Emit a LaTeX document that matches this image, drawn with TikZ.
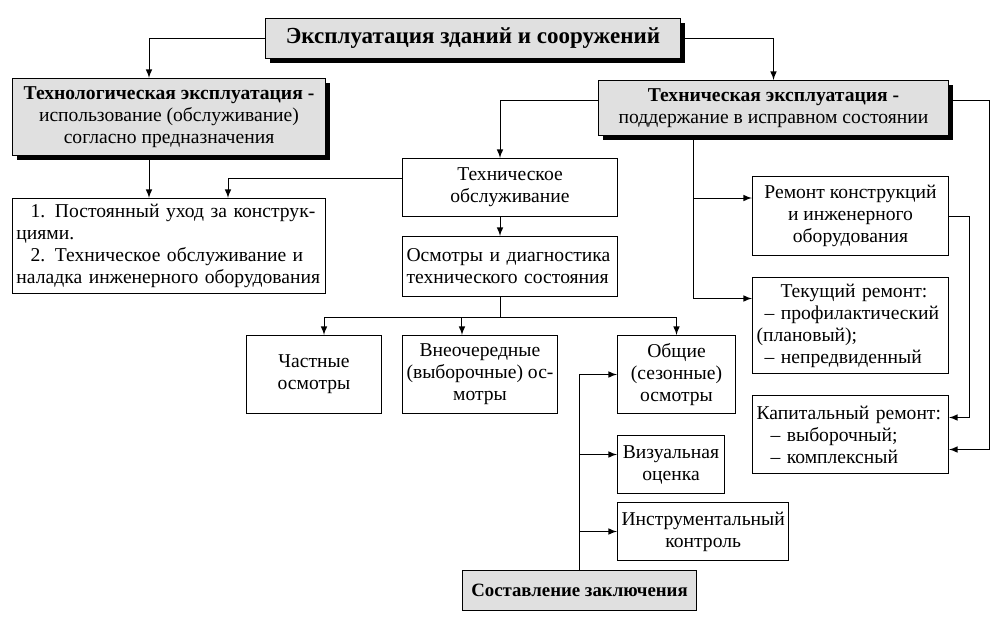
\documentclass[tikz,border=0pt]{standalone}
\usepackage{fontspec}
\setmainfont{Liberation Serif}
\usepackage{tikz}
\usetikzlibrary{positioning,shadows,arrows}
\definecolor{boxgray}{RGB}{224,224,224}

\begin{document}
\begin{tikzpicture}[x=0.5pt, y=-0.5pt, line width=0.5pt, >=latex,
	box/.style={rectangle, draw, fill=white, anchor=north west, inner sep=2pt,
		align=center, font=\fontsize{9.8}{11}\selectfont},
	head/.style={box, fill=boxgray,
		drop shadow={shadow xshift=2.2pt, shadow yshift=-2.2pt, fill=black, opacity=1}},
	sost/.style={box, fill=boxgray}
	]
	\useasboundingbox (0,0) rectangle (1005,621);
	% upper level
	\node (n) [head, minimum width=207.5pt, minimum height=20pt,
		font=\fontsize{11.5}{13}\selectfont\bfseries] at (265,18) {Эксплуатация зданий и сооружений};
	\node (lt) [head, minimum width=156.5pt, minimum height=38.5pt] at (12,78)
		{\textbf{Технологическая эксплуатация -}\\использование (обслуживание)\\согласно предназначения};
	\node (rt) [head, minimum width=175pt, minimum height=27.5pt] at (598,80)
		{\textbf{Техническая эксплуатация -}\\поддержание в исправном состоянии};
	\node (lst) [box, minimum width=156.5pt, minimum height=47.5pt, text width=152.5pt, align=left] at (12,198)
		{\makebox[152.5pt][s]{\hspace*{7pt}1. Постоянный уход за конструк-}\\
		циями.\\
		\makebox[152.5pt][s]{\hspace*{7pt}2. Техническое обслуживание и}\\
		наладка инженерного оборудования};
	% middle
	\node (to) [box, minimum width=107.5pt, minimum height=29pt] at (402,158) {Техническое\\обслуживание};
	\node (osm) [box, minimum width=107.5pt, minimum height=30pt, text width=103.5pt, align=left] at (402,236)
		{Осмотры и диагностика\\технического состояния};
	\node (ch) [box, minimum width=67.5pt, minimum height=39pt] at (246,335) {Частные\\осмотры};
	\node (vn) [box, minimum width=76.5pt, minimum height=39pt] at (402,335) {Внеочередные\\(выборочные) ос-\\мотры};
	\node (ob) [box, minimum width=59pt, minimum height=39pt] at (617,335) {Общие\\(сезонные)\\осмотры};
	\node (viz) [box, minimum width=53.5pt, minimum height=29pt] at (617,435) {Визуальная\\оценка};
	\node (ins) [box, minimum width=84pt, minimum height=29pt] at (617,502) {Инструментальный\\контроль};
	\node (zak) [sost, minimum width=117pt, minimum height=20pt,
		font=\fontsize{9.4}{11}\selectfont\bfseries] at (462,570) {Составление заключения};
	% right
	\node (rem) [box, minimum width=98pt, minimum height=39.5pt] at (752,176)
		{Ремонт конструкций\\и инженерного\\оборудования};
	\node (tek) [box, minimum width=98pt, minimum height=48pt, text width=94pt, align=left] at (752,277)
		{\hspace*{12pt}Текущий ремонт:\\\hspace*{4pt}– профилактический\\(плановый);\\\hspace*{4pt}– непредвиденный};
	\node (kap) [box, minimum width=98pt, minimum height=39pt, text width=94pt, align=left] at (752,395)
		{Капитальный ремонт:\\\hspace*{7pt}– выборочный;\\\hspace*{7pt}– комплексный};

	\draw[->] (n.west) -| ([xshift=-10pt]lt.north);
	\draw[->] (n.east) -| (rt.north);
	\draw[->] ([xshift=-10pt]lt.south) -- ([xshift=-10pt]lst.north);
	\draw[->] ([yshift=4.5pt]to.west) -| ([xshift=29.5pt]lst.north);
	\draw[->] ([yshift=4pt]rt.west) -| ([xshift=-5pt]to.north);
	\draw[->] ([xshift=-5pt]to.south) -- ([xshift=-5pt]osm.north);
	\coordinate (sp) at ([xshift=-5pt,yshift=-10pt]osm.south);
	\draw ([xshift=-5pt]osm.south) -- (sp);
	\draw[->] (sp) -| ([xshift=5pt]ch.north);
	\draw[->] (sp) -| ([xshift=-9pt]vn.north);
	\draw[->] (sp) -| (ob.north);
	\draw[->] (zak.north) |- (ob.west);
	\draw[->] (zak.north) |- ([yshift=5pt]viz.west);
	\draw[->] (zak.north) |- (ins.west);
	\draw[->] ([xshift=-40pt]rt.south) |- ([yshift=9pt]rem.west);
	\draw[->] ([xshift=-40pt]rt.south) |- ([yshift=13.5pt]tek.west);
	\draw[->] ([yshift=4pt]rt.east) -- ++(20pt,0) |- ([yshift=-7.5pt]kap.east);
	\draw[->] (rem.east) -- ++(10pt,0) |- ([yshift=8.5pt]kap.east);
\end{tikzpicture}
\end{document}
